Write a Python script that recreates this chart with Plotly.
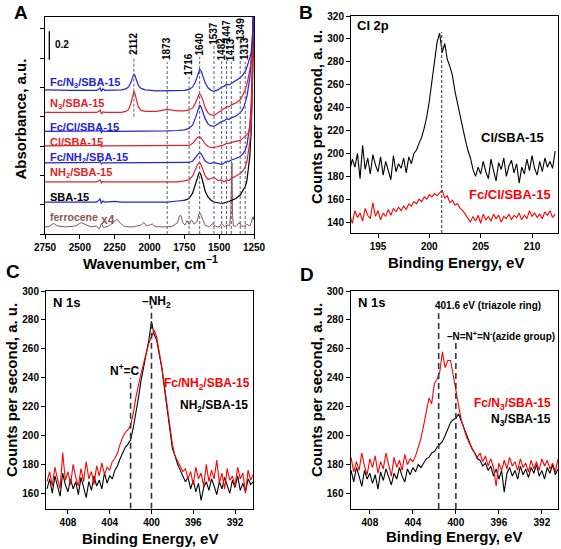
import numpy as np
import plotly.graph_objects as go

# ---------------- Panel A: FTIR ----------------
WN = [2750, 2650, 2550, 2450, 2380, 2365, 2355, 2345, 2335, 2320,
      2250, 2200, 2170, 2150, 2135, 2125, 2118, 2112, 2105, 2095,
      2080, 2060, 2030, 1950, 1873, 1800, 1750, 1716, 1690, 1670,
      1655, 1645, 1640, 1630, 1615, 1600, 1580, 1560, 1537, 1510,
      1482, 1465, 1447, 1430, 1413, 1380, 1349, 1330, 1313, 1300,
      1290, 1280, 1270, 1262, 1256, 1252, 1250]

A_FC_N3 = [0.983, 0.980, 0.980, 0.980, 0.980, 0.986, 0.997, 0.973, 0.990, 0.980,
           0.980, 0.983, 0.990, 1.003, 1.031, 1.061, 1.082, 1.092, 1.082, 1.051,
           1.014, 0.993, 0.983, 0.976, 0.976, 0.976, 0.980, 0.986, 1.003, 1.038,
           1.085, 1.119, 1.123, 1.113, 1.072, 1.031, 0.997, 0.980, 0.973, 0.983,
           1.003, 1.007, 1.020, 1.017, 1.027, 1.044, 1.065, 1.085, 1.109, 1.140,
           1.167, 1.201, 1.242, 1.324, 1.461, 1.666, 1.80]
A_N3 = [0.829, 0.829, 0.829, 0.829, 0.829, 0.836, 0.846, 0.819, 0.833, 0.829,
        0.829, 0.829, 0.836, 0.850, 0.887, 0.935, 0.962, 0.973, 0.959, 0.915,
        0.867, 0.843, 0.836, 0.836, 0.850, 0.840, 0.840, 0.846, 0.860, 0.894,
        0.935, 0.952, 0.956, 0.945, 0.908, 0.860, 0.826, 0.812, 0.809, 0.826,
        0.846, 0.853, 0.867, 0.867, 0.881, 0.894, 0.915, 0.949, 0.983, 1.024,
        1.065, 1.119, 1.188, 1.290, 1.461, 1.666, 1.80]
A_FC_CL = [0.700, 0.700, 0.700, 0.700, 0.700, 0.703, 0.710, 0.693, 0.703, 0.700,
           0.700, 0.700, 0.700, 0.700, 0.700, 0.700, 0.700, 0.700, 0.700, 0.700,
           0.700, 0.700, 0.700, 0.700, 0.703, 0.706, 0.710, 0.720, 0.744, 0.792,
           0.846, 0.877, 0.881, 0.867, 0.826, 0.785, 0.751, 0.737, 0.734, 0.751,
           0.768, 0.771, 0.785, 0.782, 0.792, 0.805, 0.826, 0.853, 0.894, 0.942,
           0.997, 1.065, 1.174, 1.290, 1.447, 1.666, 1.80]
A_CL = [0.601, 0.601, 0.601, 0.601, 0.601, 0.604, 0.611, 0.594, 0.601, 0.601,
        0.601, 0.601, 0.601, 0.601, 0.601, 0.601, 0.601, 0.601, 0.601, 0.601,
        0.601, 0.601, 0.601, 0.601, 0.601, 0.601, 0.601, 0.604, 0.618, 0.642,
        0.659, 0.662, 0.662, 0.655, 0.635, 0.614, 0.597, 0.590, 0.590, 0.597,
        0.604, 0.608, 0.618, 0.618, 0.625, 0.631, 0.638, 0.652, 0.669, 0.675,
        0.689, 0.715, 0.860, 1.119, 1.358, 1.666, 1.80]
A_FC_NH2 = [0.485, 0.485, 0.485, 0.485, 0.485, 0.488, 0.495, 0.478, 0.485, 0.485,
            0.485, 0.485, 0.485, 0.485, 0.485, 0.485, 0.485, 0.485, 0.485, 0.485,
            0.485, 0.485, 0.485, 0.485, 0.485, 0.488, 0.488, 0.488, 0.498, 0.522,
            0.546, 0.556, 0.556, 0.546, 0.519, 0.498, 0.485, 0.481, 0.488, 0.481,
            0.474, 0.485, 0.495, 0.495, 0.505, 0.515, 0.529, 0.546, 0.573, 0.608,
            0.662, 0.744, 0.881, 1.085, 1.324, 1.666, 1.80]
A_NH2 = [0.355, 0.355, 0.355, 0.355, 0.355, 0.362, 0.369, 0.348, 0.358, 0.355,
         0.355, 0.355, 0.355, 0.355, 0.355, 0.355, 0.355, 0.355, 0.355, 0.355,
         0.355, 0.355, 0.355, 0.355, 0.355, 0.355, 0.362, 0.369, 0.396, 0.444,
         0.474, 0.485, 0.485, 0.474, 0.437, 0.396, 0.372, 0.379, 0.386, 0.365,
         0.369, 0.355, 0.369, 0.365, 0.379, 0.396, 0.413, 0.430, 0.457, 0.498,
         0.553, 0.628, 0.744, 0.949, 1.256, 1.666, 1.80]
A_SBA = [0.218, 0.218, 0.218, 0.218, 0.218, 0.229, 0.239, 0.208, 0.225, 0.218,
         0.222, 0.218, 0.218, 0.218, 0.218, 0.218, 0.218, 0.218, 0.218, 0.218,
         0.218, 0.218, 0.218, 0.218, 0.218, 0.225, 0.229, 0.242, 0.280, 0.341,
         0.396, 0.416, 0.420, 0.403, 0.348, 0.290, 0.253, 0.232, 0.218, 0.212,
         0.208, 0.212, 0.215, 0.222, 0.229, 0.242, 0.266, 0.294, 0.324, 0.369,
         0.437, 0.532, 0.710, 0.949, 1.256, 1.666, 1.80]

FC_WN = [2750, 2720, 2690, 2660, 2600, 2530, 2490, 2460, 2420, 2380,
         2360, 2345, 2330, 2290, 2250, 2230, 2210, 2180, 2120, 2060,
         2040, 2020, 1980, 1960, 1900, 1840, 1800, 1785, 1775, 1760,
         1745, 1730, 1715, 1698, 1680, 1660, 1645, 1635, 1620, 1600,
         1570, 1545, 1525, 1500, 1482, 1465, 1440, 1425, 1417, 1412,
         1408, 1404, 1398, 1380, 1355, 1340, 1320, 1300, 1280, 1268,
         1260, 1255, 1250]
FC_A = [0.048, 0.051, 0.072, 0.055, 0.048, 0.055, 0.078, 0.065, 0.048, 0.055,
        0.034, 0.072, 0.044, 0.055, 0.089, 0.099, 0.075, 0.051, 0.048, 0.061,
        0.078, 0.055, 0.068, 0.051, 0.048, 0.051, 0.075, 0.123, 0.126, 0.075,
        0.061, 0.092, 0.065, 0.096, 0.068, 0.082, 0.137, 0.140, 0.102, 0.058,
        0.051, 0.072, 0.051, 0.048, 0.072, 0.051, 0.061, 0.055, 0.130, 0.471,
        0.485, 0.130, 0.055, 0.051, 0.078, 0.051, 0.055, 0.065, 0.055, 0.082,
        0.116, 0.096, 0.123]

PEAKS = [2112, 1873, 1716, 1640, 1537, 1482, 1447, 1413, 1349, 1313]

# ---------------- Panel B: Cl 2p XPS ----------------
B_START, B_STEP = 192.25, 0.25
B_CL = [185, 195, 188, 200, 178, 207, 186, 196, 182, 199,
        190, 184, 197, 181, 193, 186, 177, 198, 184, 191,
        187, 196, 183, 197, 191, 200, 203, 209, 214, 222,
        232, 246, 262, 280, 297, 305, 288, 296, 282, 276,
        268, 254, 243, 233, 224, 212, 203, 196, 186, 180,
        188, 182, 193, 184, 178, 195, 185, 176, 192, 186,
        196, 180, 189, 194, 183, 191, 174, 188, 182, 195,
        185, 198, 187, 181, 193, 184, 196, 188, 193, 187, 202]
B_FC_CL = [146, 139, 150, 144, 148, 141, 152, 146, 143, 157,
           145, 150, 142, 148, 145, 151, 146, 152, 149, 153,
           150, 154, 151, 156, 154, 158, 156, 160, 158, 162,
           160, 164, 162, 165, 163, 166, 168, 161, 163, 157,
           159, 155, 156, 152, 150, 147, 143, 140, 145, 141,
           146, 139, 147, 142, 145, 141, 147, 143, 146, 140,
           145, 143, 147, 142, 146, 144, 148, 142, 146, 143,
           150, 145, 148, 144, 147, 143, 149, 146, 150, 144, 147]

# ---------------- Panels C, D: N 1s XPS ----------------
N_START, N_STEP = 410.0, -0.25
C_NH2 = [163, 170, 160, 172, 165, 158, 174, 166, 161, 170,
         163, 168, 159, 171, 164, 157, 168, 162, 172, 165,
         169, 163, 174, 167, 172, 170, 176, 179, 184, 188,
         192, 194, 197, 205, 215, 226, 238, 248, 258, 266,
         279, 270, 266, 257, 246, 232, 218, 203, 191, 186,
         180, 176, 172, 168, 171, 163, 169, 161, 167, 155,
         164, 168, 162, 170, 165, 159, 168, 163, 171, 166,
         160, 169, 164, 172, 162, 167, 161, 170, 166, 168]
C_FC_NH2 = [168, 175, 165, 178, 170, 163, 188, 169, 175, 166,
            180, 171, 165, 177, 168, 182, 170, 175, 166, 179,
            172, 181, 173, 178, 176, 182, 184, 188, 194, 199,
            202, 204, 207, 215, 226, 235, 243, 250, 258, 264,
            268, 273, 268, 258, 247, 234, 220, 205, 194, 186,
            182, 179, 175, 177, 170, 175, 166, 178, 170, 174,
            165, 180, 168, 176, 170, 183, 167, 174, 163, 177,
            169, 172, 165, 178, 170, 174, 160, 176, 169, 173]
D_N3 = [170, 176, 168, 178, 172, 165, 176, 170, 174, 167,
        173, 163, 175, 169, 177, 171, 166, 174, 170, 178,
        172, 168, 177, 173, 178, 175, 180, 178, 181, 184,
        185, 188, 189, 192, 194, 196, 200, 204, 209, 211,
        212, 215, 210, 206, 200, 195, 191, 188, 184, 183,
        179, 181, 176, 179, 172, 177, 170, 176, 161, 174,
        178, 172, 176, 170, 179, 173, 177, 171, 178, 174,
        180, 172, 176, 170, 178, 174, 180, 173, 177, 171]
D_FC_N3 = [178, 185, 175, 182, 176, 188, 179, 173, 184, 178,
           186, 174, 182, 177, 188, 180, 172, 185, 178, 183,
           176, 187, 180, 184, 182, 186, 192, 198, 207, 216,
           226, 222, 236, 239, 244, 258, 247, 252, 252, 242,
           230, 221, 211, 205, 199, 195, 191, 188, 185, 188,
           182, 186, 179, 184, 178, 165, 181, 176, 183, 177,
           185, 179, 182, 176, 184, 178, 181, 175, 183, 177,
           182, 176, 184, 179, 183, 177, 181, 175, 184, 178]

B_x = B_START + B_STEP * np.arange(len(B_CL))
C_x = N_START + N_STEP * np.arange(len(C_NH2))
D_x = N_START + N_STEP * np.arange(len(D_N3))

# ---------------- styling ----------------
FONT = "Liberation Sans, Arial, Helvetica, sans-serif"
BLUE = "#2424d6"
RED = "#e0242a"
BRED = "#ff0000"
BROWN = "#8e5656"
W, H = 561, 549

fig = go.Figure()


def line(x, y, color, xa, ya, width=1.2):
    fig.add_trace(go.Scatter(x=list(x), y=list(y), mode="lines",
                             line=dict(color=color, width=width),
                             xaxis=xa, yaxis=ya, showlegend=False,
                             hoverinfo="skip"))


# Panel A traces
k = max(i for i, w in enumerate(WN) if w >= 1750)
line(FC_WN, FC_A, BROWN, "x", "y", 1.0)
line(WN[:k + 1], A_SBA[:k + 1], BLUE, "x", "y")
line(WN[k:], A_SBA[k:], "black", "x", "y")
line(WN, A_NH2, RED, "x", "y")
line(WN, A_FC_NH2, BLUE, "x", "y")
line(WN, A_CL, RED, "x", "y")
line(WN, A_FC_CL, BLUE, "x", "y")
line(WN, A_N3, RED, "x", "y")
line(WN, A_FC_N3, BLUE, "x", "y")

# Panel B
line(B_x, B_CL, "black", "x2", "y2", 1.1)
line(B_x, B_FC_CL, BRED, "x2", "y2", 1.1)
# Panel C
line(C_x, C_NH2, "black", "x3", "y3", 1.1)
line(C_x, C_FC_NH2, BRED, "x3", "y3", 1.1)
# Panel D
line(D_x, D_N3, "black", "x4", "y4", 1.1)
line(D_x, D_FC_N3, BRED, "x4", "y4", 1.1)


def ax(domain, rng, **kw):
    d = dict(domain=domain, range=rng, showline=True, linecolor="black",
             linewidth=1, mirror=True, ticks="outside", ticklen=4,
             tickcolor="black", showgrid=False, zeroline=False, automargin=False,
             tickfont=dict(family=FONT, size=10, color="black", weight="bold"))
    d.update(kw)
    return d


XA = [45 / W, 254 / W]
XB = [351 / W, 558 / W]
XC = [46 / W, 253.3 / W]
XD = [350.5 / W, 558 / W]
YA = [1 - 234 / H, 1 - 17 / H]
YB = [1 - 233 / H, 1 - 16 / H]
YC = [1 - 508.7 / H, 1 - 291 / H]
YD = [1 - 509 / H, 1 - 291 / H]

fig.update_layout(
    template="none",
    width=W, height=H, margin=dict(l=0, r=0, t=0, b=0, pad=0, autoexpand=False),
    paper_bgcolor="white", plot_bgcolor="white", showlegend=False,
    xaxis=ax(XA, [2750, 1250], anchor="y", tickvals=[2750, 2500, 2250, 2000, 1750, 1500, 1250]),
    yaxis=ax(YA, [0, 1.48], anchor="x", tickvals=[0, 0.2, 0.4, 0.6, 0.8, 1.0, 1.2, 1.4], showticklabels=False),
    xaxis2=ax(XB, [192.37, 212.53], anchor="y2", tickvals=[195, 200, 205, 210]),
    yaxis2=ax(YB, [130.5, 320], anchor="x2", tickvals=[140, 160, 180, 200, 220, 240, 260, 280, 300, 320]),
    xaxis3=ax(XC, [410.1, 390.25], anchor="y3", tickvals=[408, 404, 400, 396, 392]),
    yaxis3=ax(YC, [149.3, 300], anchor="x3", tickvals=[160, 180, 200, 220, 240, 260, 280, 300]),
    xaxis4=ax(XD, [409.8, 390.5], anchor="y4", tickvals=[408, 404, 400, 396, 392]),
    yaxis4=ax(YD, [149.3, 300], anchor="x4", tickvals=[160, 180, 200, 220, 240, 260, 280, 300]),
)

shapes = []
# Panel A dashed lines
PEAK_TOP = [1.208, 1.174, 1.072, 1.208, 1.283, 1.181, 1.297, 1.174, 1.317, 1.174]
PEAK_BOT = [0.80, 0, 0, 0, 0, 0, 0, 0, 0, 0]
PEAK_LBL_Y = [1.297, 1.263, 1.154, 1.297, 1.365, 1.263, 1.386, 1.256, 1.396, 1.263]
for p, t, b in zip(PEAKS, PEAK_TOP, PEAK_BOT):
    shapes.append(dict(type="line", xref="x", yref="y", x0=p, x1=p, y0=b, y1=t,
                       line=dict(color="#5c5c80", width=1, dash="3px,2px")))
# scale bar
shapes.append(dict(type="line", xref="x", yref="y", x0=2719, x1=2719, y0=1.188, y1=1.383,
                   line=dict(color="black", width=1.3)))
# Panel B dashed
shapes.append(dict(type="line", xref="x2", yref="y2", x0=201.2, x1=201.2, y0=130.5, y1=306,
                   line=dict(color="#555555", width=1.2, dash="3px,2px")))
# Panel C dashed
shapes.append(dict(type="line", xref="x3", yref="y3", x0=402, x1=402, y0=149.3, y1=240,
                   line=dict(color="#333333", width=1.6, dash="6px,4px")))
shapes.append(dict(type="line", xref="x3", yref="y3", x0=400, x1=400, y0=149.3, y1=290,
                   line=dict(color="#333333", width=1.6, dash="6px,4px")))
# Panel D dashed
shapes.append(dict(type="line", xref="x4", yref="y4", x0=401.6, x1=401.6, y0=149.3, y1=284.6,
                   line=dict(color="#333333", width=1.6, dash="6px,4px")))
shapes.append(dict(type="line", xref="x4", yref="y4", x0=400, x1=400, y0=149.3, y1=265,
                   line=dict(color="#333333", width=1.6, dash="6px,4px")))
fig.update_layout(shapes=shapes)

ann = []


def txt(text, x, y, xref, yref, size, color="black", xanchor="center", yanchor="middle", angle=0):
    ann.append(dict(text=text, x=x, y=y, xref=xref, yref=yref, showarrow=False,
                    xanchor=xanchor, yanchor=yanchor, textangle=angle,
                    font=dict(family=FONT, size=size, color=color, weight="bold")))


# Panel A peak labels
for p, ly in zip(PEAKS, PEAK_LBL_Y):
    txt(str(p), p, ly, "x", "y", 10, angle=-90)
txt("0.2", 2693, 1.294, "x", "y", 10, xanchor="left")
# Panel A curve labels
LBL_X = 2728
txt("Fc/N<sub>3</sub>/SBA-15", LBL_X, 1.031, "x", "y", 11, BLUE, xanchor="left")
txt("N<sub>3</sub>/SBA-15", LBL_X, 0.887, "x", "y", 11, RED, xanchor="left")
txt("Fc/Cl/SBA-15", LBL_X, 0.733, "x", "y", 11, BLUE, xanchor="left")
txt("Cl/SBA-15", LBL_X, 0.625, "x", "y", 11, RED, xanchor="left")
txt("Fc/NH<sub>2</sub>/SBA-15", LBL_X, 0.519, "x", "y", 11, BLUE, xanchor="left")
txt("NH<sub>2</sub>/SBA-15", LBL_X, 0.413, "x", "y", 11, RED, xanchor="left")
txt("SBA-15", LBL_X, 0.255, "x", "y", 11, "black", xanchor="left")
txt("ferrocene", LBL_X, 0.118, "x", "y", 10.5, BROWN, xanchor="left")
txt("x4", 2298, 0.096, "x", "y", 12, BROWN)

# Panel B labels
txt("Cl 2p", 192.76, 311.3, "x2", "y2", 13, xanchor="left")
txt("Cl/SBA-15", 211.4, 214.3, "x2", "y2", 13, xanchor="right")
txt("Fc/Cl/SBA-15", 212.0, 164.5, "x2", "y2", 13, BRED, xanchor="right")

# Panel C labels
txt("N 1s", 409.66, 291.9, "x3", "y3", 13, xanchor="left")
txt("\u2013NH<sub>2</sub>", 399.5, 292.6, "x3", "y3", 12)
txt("N<sup>+</sup>=C", 402.56, 245.3, "x3", "y3", 12)
txt("Fc/NH<sub>2</sub>/SBA-15", 390.37, 235.4, "x3", "y3", 12, BRED, xanchor="right")
txt("NH<sub>2</sub>/SBA-15", 390.57, 220.6, "x3", "y3", 12, xanchor="right")

# Panel D labels
txt("N 1s", 409.32, 291.9, "x4", "y4", 13, xanchor="left")
txt("401.6 eV (triazole ring)", 397.0, 290.3, "x4", "y4", 10)
txt("\u2013N=N<sup>+</sup>=N<sup>-</sup>(azide group)", 390.6, 268.9, "x4", "y4", 10, xanchor="right")
txt("Fc/N<sub>3</sub>/SBA-15", 390.96, 221.6, "x4", "y4", 12, BRED, xanchor="right")
txt("N<sub>3</sub>/SBA-15", 390.96, 210.5, "x4", "y4", 12, xanchor="right")

# axis titles (paper)
txt("Wavenumber, cm<sup>\u22121</sup>", 150 / W, 1 - 262 / H, "paper", "paper", 15)
txt("Absorbance, a.u.", 20.5 / W, 1 - 119 / H, "paper", "paper", 15, angle=-90)
txt("Binding Energy, eV", 456 / W, 1 - 262 / H, "paper", "paper", 15)
txt("Counts per second, a. u.", 316.5 / W, 1 - 117.5 / H, "paper", "paper", 15, angle=-90)
txt("Binding Energy, eV", 150 / W, 1 - 538 / H, "paper", "paper", 15)
txt("Counts per second, a. u.", 11 / W, 1 - 390 / H, "paper", "paper", 15, angle=-90)
txt("Binding Energy, eV", 454 / W, 1 - 536 / H, "paper", "paper", 15)
txt("Counts per second, a. u.", 316 / W, 1 - 390 / H, "paper", "paper", 15, angle=-90)

# panel letters
txt("A", 21 / W, 1 - 13 / H, "paper", "paper", 19)
txt("B", 306 / W, 1 - 12 / H, "paper", "paper", 19)
txt("C", 13 / W, 1 - 271 / H, "paper", "paper", 19)
txt("D", 307 / W, 1 - 274 / H, "paper", "paper", 19)

fig.update_layout(annotations=ann)
fig.write_html(
    "out.html",
    config={"displayModeBar": False, "staticPlot": True},
    post_script="document.documentElement.style.margin='0';"
                "document.body.style.margin='0';"
                "document.body.style.padding='0';"
                "document.body.style.overflow='hidden';",
)
